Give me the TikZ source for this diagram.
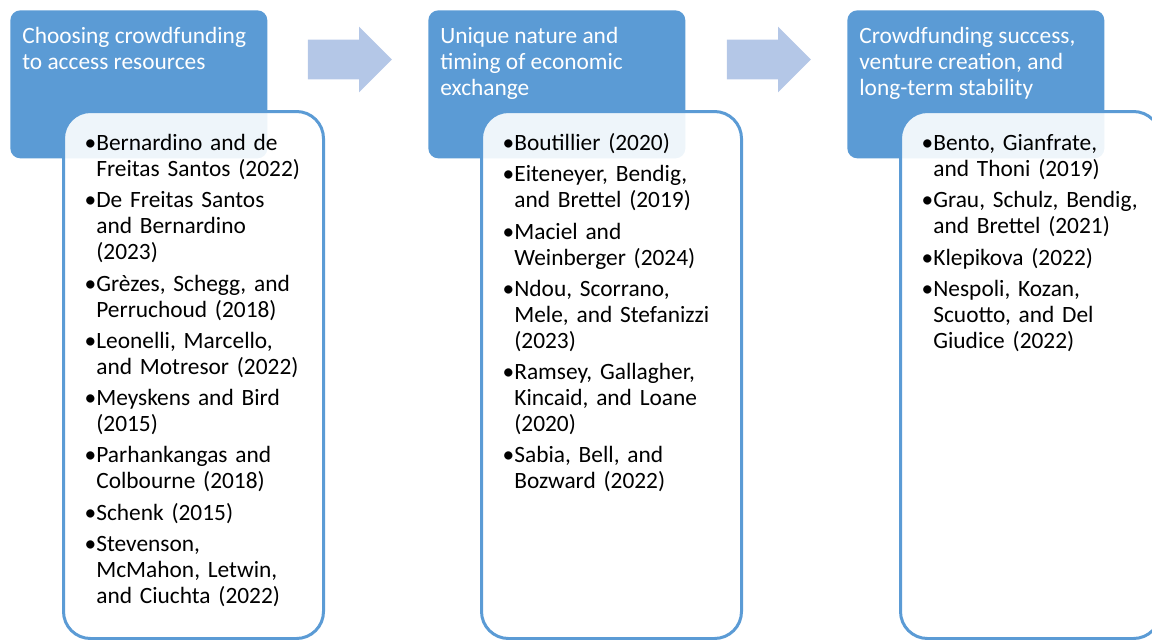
\documentclass[tikz,border=0pt]{standalone}
\usepackage{fontspec}
\setmainfont{Carlito}
\usepackage{tikz}
\usetikzlibrary{positioning, shapes.arrows}
\definecolor{stage-blue}{HTML}{5B9BD5}
\definecolor{stage-arrow}{HTML}{B4C7E7}

% one bullet entry of a reference list
\newcommand{\refitem}[1]{\par\noindent\llap{\textbullet}#1}
% fixed height of the first line
\newcommand{\toprule}{\rule{0pt}{0.34cm}}

\begin{document}
\begin{tikzpicture}[
    stage/.style={draw=none, fill=stage-blue, rounded corners=0.2cm, anchor=north west,
                  minimum width=5.14cm, minimum height=2.96cm, inner sep=0},
    refbox/.style={draw=stage-blue, line width=0.06cm, fill=white, fill opacity=0.9,
                   rounded corners=0.54cm, anchor=north west,
                   minimum width=5.2cm, minimum height=10.54cm, inner sep=0},
    head/.style={anchor=north west, inner sep=0, text=white, align=left,
                 font=\fontsize{13.3}{14.8}\selectfont},
    refs/.style={anchor=north west, inner sep=0, text=black, text width=4.6cm, align=left,
                 font=\fontsize{13.3}{14.8}\selectfont\setlength{\parskip}{0.105cm}},
    flow/.style={single arrow, fill=stage-arrow, draw=none, inner xsep=0, inner ysep=0.39cm,
                 minimum height=1.68cm, minimum width=1.3cm,
                 single arrow head extend=0.26cm, single arrow head indent=0},
]
    \useasboundingbox (0,0) rectangle (23.04,-12.78);

    % Stage 1
    \node[stage] (stageA) at (0.2,-0.2) {};
    \node[refbox] (boxA) at (1.24,-2.2) {};
    \node[head] (headA) at (0.44,-0.52) {\toprule Choosing crowdfunding\\to access resources};
    \node[refs] (refsA) at (1.92,-2.38) {%
        \refitem{\toprule Bernardino and de\\Freitas Santos (2022)}
        \refitem{De Freitas Santos\\and Bernardino\\(2023)}
        \refitem{Grèzes, Schegg, and\\Perruchoud (2018)}
        \refitem{Leonelli, Marcello,\\and Motresor (2022)}
        \refitem{Meyskens and Bird\\(2015)}
        \refitem{Parhankangas and\\Colbourne (2018)}
        \refitem{Schenk (2015)}
        \refitem{Stevenson,\\McMahon, Letwin,\\and Ciuchta (2022)}};

    % Stage 2
    \node[stage] (stageB) at (8.56,-0.2) {};
    \node[refbox] (boxB) at (9.6,-2.2) {};
    \node[head] (headB) at (8.8,-0.52) {\toprule Unique nature and\\timing of economic\\exchange};
    \node[refs] (refsB) at (10.28,-2.38) {%
        \refitem{\toprule Boutillier (2020)}
        \refitem{Eiteneyer, Bendig,\\and Brettel (2019)}
        \refitem{Maciel and\\Weinberger (2024)}
        \refitem{Ndou, Scorrano,\\Mele, and Stefanizzi\\(2023)}
        \refitem{Ramsey, Gallagher,\\Kincaid, and Loane\\(2020)}
        \refitem{Sabia, Bell, and\\Bozward (2022)}};

    % Stage 3
    \node[stage] (stageC) at (16.94,-0.2) {};
    \node[refbox] (boxC) at (17.98,-2.2) {};
    \node[head] (headC) at (17.18,-0.52) {\toprule Crowdfunding success,\\venture creation, and\\long-term stability};
    \node[refs] (refsC) at (18.66,-2.38) {%
        \refitem{\toprule Bento, Gianfrate,\\and Thoni (2019)}
        \refitem{Grau, Schulz, Bendig,\\and Brettel (2021)}
        \refitem{Klepikova (2022)}
        \refitem{Nespoli, Kozan,\\Scuotto, and Del\\Giudice (2022)}};

    % Block arrows
    \node[flow] (flowAB) at (6.8,-1.19) {};
    \node[flow] (flowBC) at (15.18,-1.19) {};

\end{tikzpicture}
\end{document}
